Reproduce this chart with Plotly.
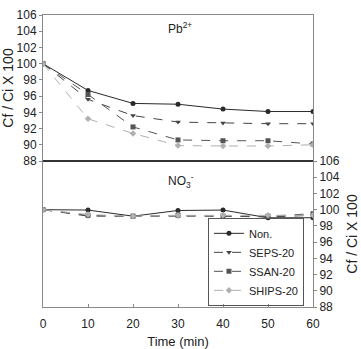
import plotly.graph_objects as go

time = [0, 10, 20, 30, 40, 50, 60]
series_names = ["Non.", "SEPS-20", "SSAN-20", "SHIPS-20"]
pb_non = [100, 96.7, 95.1, 95.0, 94.4, 94.1, 94.1]
pb_seps = [100, 95.6, 93.6, 92.8, 92.7, 92.6, 92.6]
pb_ssan = [100, 96.2, 92.2, 90.6, 90.5, 90.5, 90.1]
pb_ships = [100, 93.2, 91.4, 89.9, 89.85, 89.85, 90.0]
no3_non = [100, 99.95, 99.2, 99.9, 99.95, 99.0, 99.0]
no3_seps = [100, 99.2, 99.2, 99.2, 99.2, 99.1, 99.3]
no3_ssan = [100, 99.3, 99.2, 99.3, 99.2, 99.2, 99.5]
no3_ships = [100, 99.4, 99.2, 99.3, 99.3, 99.3, 99.3]
y_ticks = [88, 90, 92, 94, 96, 98, 100, 102, 104, 106]

styles = [
    dict(color="#2a2a2a", dash="solid", symbol="circle"),
    dict(color="#444444", dash="dash", symbol="triangle-down"),
    dict(color="#555555", dash="dash", symbol="square"),
    dict(color="#b0b0b0", dash="dash", symbol="diamond"),
]

fig = go.Figure()
pb = [pb_non, pb_seps, pb_ssan, pb_ships]
no3 = [no3_non, no3_seps, no3_ssan, no3_ships]
for name, st, yv in zip(series_names, styles, pb):
    fig.add_trace(go.Scatter(x=time, y=yv, name=name, mode="lines+markers",
                             xaxis="x2", yaxis="y2", showlegend=False,
                             line=dict(color=st["color"], dash=st["dash"], width=1),
                             marker=dict(symbol=st["symbol"], size=5, color=st["color"])))
for name, st, yv in zip(series_names, styles, no3):
    fig.add_trace(go.Scatter(x=time, y=yv, name=name, mode="lines+markers",
                             xaxis="x", yaxis="y",
                             line=dict(color=st["color"], dash=st["dash"], width=1),
                             marker=dict(symbol=st["symbol"], size=5, color=st["color"])))

font = dict(family="Liberation Sans, Arial, sans-serif", size=12, color="#222")
axis_line = dict(showline=True, linecolor="#888", linewidth=1, showgrid=False,
                 zeroline=False, automargin=False)

fig.update_layout(
    width=361, height=349,
    margin=dict(l=43, r=48, t=15, b=42),
    paper_bgcolor="white", plot_bgcolor="white",
    font=font,
    xaxis=dict(domain=[0, 1], range=[0, 60], tickvals=time, ticks="inside", ticklen=3,
               tickcolor="#888", anchor="y", ticklabelstandoff=6,
               title=dict(text="Time (min)", font=dict(size=13), standoff=9), **axis_line),
    xaxis2=dict(domain=[0, 1], range=[0, 60], matches="x", anchor="y2", showticklabels=False,
                mirror=True, **axis_line),
    yaxis=dict(domain=[0, 0.5], range=[88, 106], tickvals=y_ticks, side="right",
               ticks="outside", ticklen=3, tickcolor="#888", mirror=True, anchor="x",
               title=dict(text="Cf / Ci X 100", standoff=8), **axis_line),
    yaxis2=dict(domain=[0.5, 1], range=[88, 106], tickvals=y_ticks, side="left",
                ticks="outside", ticklen=3, tickcolor="#888", mirror=True, anchor="x2",
                title=dict(text="Cf / Ci X 100", standoff=6), **axis_line),
    legend=dict(x=0.611, y=0.004, xanchor="left", yanchor="bottom",
                bordercolor="#555", borderwidth=1, bgcolor="rgba(255,255,255,0)",
                font=dict(size=11), tracegroupgap=0, itemwidth=30),
    shapes=[dict(type="line", xref="paper", yref="paper", x0=0, x1=1, y0=0.5, y1=0.5,
                 line=dict(color="#333", width=2))],
    annotations=[
        dict(x=27.3, y=104.4, xref="x2", yref="y2", text="Pb<sup>2+</sup>", showarrow=False,
             xanchor="left", font=dict(size=12)),
        dict(x=27.3, y=103.5, xref="x", yref="y", text="NO<sub>3</sub><sup>-</sup>", showarrow=False,
             xanchor="left", font=dict(size=12)),
    ],
)

fig.write_html("out.html")
